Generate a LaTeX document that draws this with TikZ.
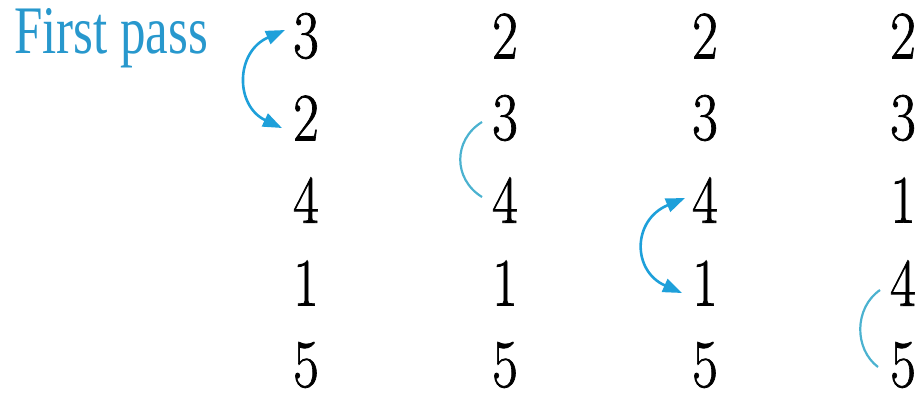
\documentclass[tikz,border=0pt]{standalone}
\usepackage{fontspec}
\usepackage{graphicx}
\newfontfamily\libserif{Liberation Serif}
\newfontfamily\numfont[FakeBold=1.2]{Latin Modern Roman}
\usetikzlibrary{arrows.meta}
\definecolor{passblue}{RGB}{30,160,218}
\definecolor{lblblue}{RGB}{40,152,205}
\definecolor{arcblue}{RGB}{75,178,208}
\newcommand{\dig}[1]{\scalebox{0.82}[1]{#1}}
\tikzset{
  num/.style={inner sep=0pt, font=\numfont\fontsize{68}{68}\selectfont, text=black},
  swaparrow/.style={draw=passblue, line width=2.6pt, {Triangle[length=19pt,width=14pt]}-{Triangle[length=19pt,width=14pt]}},
  cmparc/.style={draw=arcblue, line width=2.2pt},
  lbl/.style={inner sep=0pt, anchor=base west, text=lblblue, font=\libserif\fontsize{68}{68}\selectfont}
}
\begin{document}
\begin{tikzpicture}[x=1pt,y=-1pt]
\useasboundingbox (0,0) rectangle (918,396);
\node[lbl] (title) at (14,53) {\scalebox{0.75}[1]{First pass}};
% columns
\foreach \col/\xx/\va/\vb/\vc/\vd/\ve in {1/306/3/2/4/1/5, 2/505/2/3/4/1/5, 3/705/2/3/4/1/5, 4/903/2/3/1/4/5}{
  \node[num] (c\col r1) at (\xx,36) {\dig{\va}};
  \node[num] (c\col r2) at (\xx,118) {\dig{\vb}};
  \node[num] (c\col r3) at (\xx,200) {\dig{\vc}};
  \node[num] (c\col r4) at (\xx,283) {\dig{\vd}};
  \node[num] (c\col r5) at (\xx,365) {\dig{\ve}};
}
% swaps
\draw[swaparrow] ([shift={(-21,-6)}]c1r1.center) .. controls +(-50,22) and +(-47,-22) .. ([shift={(-24,10)}]c1r2.center);
\draw[swaparrow] ([shift={(-20,-2)}]c3r3.center) .. controls +(-53,22) and +(-50,-22) .. ([shift={(-23,10)}]c3r4.center);
% comparisons without swap
\draw[cmparc] ([shift={(-23,4)}]c2r2.center) .. controls +(-29,18) and +(-29,-18) .. ([shift={(-23,-3)}]c2r3.center);
\draw[cmparc] ([shift={(-23,7)}]c4r4.center) .. controls +(-26,18) and +(-24,-18) .. ([shift={(-25,2)}]c4r5.center);
\end{tikzpicture}
\end{document}
